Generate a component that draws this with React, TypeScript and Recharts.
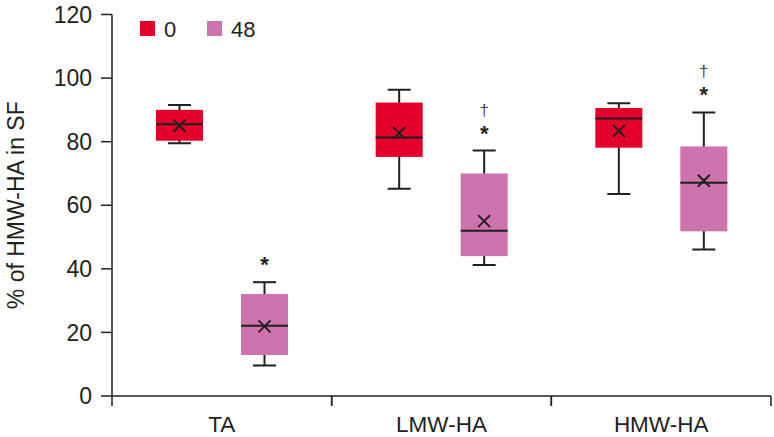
import React from "react";
import { BarChart, Bar, XAxis, YAxis, Legend, Label } from "recharts";

const categories = ["TA", "LMW-HA", "HMW-HA"];
const seriesNames = ["0", "48"];

// Series "0"
const min0 = [79.5, 65.2, 63.5];
const q1_0 = [80.3, 75.2, 78.1];
const med0 = [85.5, 81.3, 87.3];
const mean0 = [85.0, 82.7, 83.4];
const q3_0 = [90.0, 92.3, 90.6];
const max0 = [91.5, 96.3, 92.1];

// Series "48"
const min48 = [9.6, 41.2, 46.1];
const q1_48 = [12.9, 44.0, 51.8];
const med48 = [22.1, 52.0, 67.1];
const mean48 = [21.9, 55.0, 67.7];
const q3_48 = [32.1, 70.0, 78.5];
const max48 = [35.8, 77.2, 89.2];

// Annotations above series "48"
const star48 = ["*", "*", "*"];
const dagger48 = ["", "†", "†"];

const yTicks = [0, 20, 40, 60, 80, 100, 120];

const RED = "#E3002B";
const PINK = "#CD73AD";
const INK = "#231F20";
const FONT = "'Liberation Sans', Arial, Helvetica, sans-serif";

const data = categories.map((c, i) => ({
  category: c,
  s0: { min: min0[i], q1: q1_0[i], med: med0[i], mean: mean0[i], q3: q3_0[i], max: max0[i], star: "", dagger: "" },
  s48: { min: min48[i], q1: q1_48[i], med: med48[i], mean: mean48[i], q3: q3_48[i], max: max48[i], star: star48[i], dagger: dagger48[i] },
}));

function makeBoxShape(key: "s0" | "s48", color: string) {
  return (props: any) => {
    const { x, y, width, height, payload } = props;
    const s = payload[key];
    const top = Math.min(y, y + height);
    const bottom = Math.max(y, y + height);
    const k = (bottom - top) / (s.max - s.min);
    const py = (v: number) => bottom - (v - s.min) * k;
    const cx = x + width / 2;
    const capHalf = width * 0.245;
    const m = 6;
    const ym = py(s.mean);
    return (
      <g>
        <line x1={cx} x2={cx} y1={py(s.max)} y2={py(s.min)} stroke={INK} strokeWidth={2} />
        <line x1={cx - capHalf} x2={cx + capHalf} y1={py(s.max)} y2={py(s.max)} stroke={INK} strokeWidth={2} />
        <line x1={cx - capHalf} x2={cx + capHalf} y1={py(s.min)} y2={py(s.min)} stroke={INK} strokeWidth={2} />
        <rect x={x} y={py(s.q3)} width={width} height={py(s.q1) - py(s.q3)} fill={color} />
        <line x1={x} x2={x + width} y1={py(s.med)} y2={py(s.med)} stroke={INK} strokeWidth={2} />
        <line x1={cx - m} x2={cx + m} y1={ym - m} y2={ym + m} stroke={INK} strokeWidth={2} />
        <line x1={cx - m} x2={cx + m} y1={ym + m} y2={ym - m} stroke={INK} strokeWidth={2} />
        {s.star ? (
          <text x={cx} y={py(s.max) - 10} textAnchor="middle" fontSize={22} fontWeight="bold" fill={INK} fontFamily={FONT}>
            {s.star}
          </text>
        ) : null}
        {s.dagger ? (
          <text x={cx} y={py(s.max) - 35} textAnchor="middle" fontSize={17} fill="#4a4a4a" fontFamily={FONT}>
            {s.dagger}
          </text>
        ) : null}
      </g>
    );
  };
}

const XTick = (props: any) => {
  const { x, y, payload, width } = props;
  const half = payload && payload.offset > 0 ? payload.offset : width / categories.length / 2;
  return (
    <g>
      <line x1={x - half} x2={x - half} y1={y} y2={y + 10} stroke={INK} strokeWidth={1.5} />
      <line x1={x + half} x2={x + half} y1={y} y2={y + 10} stroke={INK} strokeWidth={1.5} />
      <text x={x} y={y + 36} textAnchor="middle" fontSize={22.5} fill={INK} fontFamily={FONT}>
        {payload.value}
      </text>
    </g>
  );
};

const LegendContent = (props: any) => {
  const items = props.payload || [];
  return (
    <svg width={130} height={32}>
      {items.map((it: any, i: number) => (
        <g key={i} transform={`translate(${i * 67},0)`}>
          <rect x={0} y={8} width={15} height={15} fill={it.color} />
          <text x={24} y={23.5} fontSize={22} fill={INK} fontFamily={FONT}>
            {it.value}
          </text>
        </g>
      ))}
    </svg>
  );
};

const YLabel = (props: any) => {
  const vb = props.viewBox || { x: 0, y: 0, width: 0, height: 0 };
  const cx = vb.x + 24;
  const cy = vb.y + vb.height / 2;
  return (
    <text
      x={cx}
      y={cy}
      transform={`rotate(-90, ${cx}, ${cy})`}
      textAnchor="middle"
      fontSize={23}
      fill={INK}
      fontFamily={FONT}
    >
      % of HMW-HA in SF
    </text>
  );
};

export default function App() {
  return (
    <div style={{ position: "absolute", left: 0, top: 0, width: 774, height: 437, background: "#fff" }}>
      <BarChart
        width={774}
        height={437}
        data={data}
        margin={{ top: 14.5, right: 3, bottom: 0, left: 0 }}
        barSize={47}
        barGap={38}
      >
        <XAxis
          dataKey="category"
          tickLine={false}
          tickSize={0}
          tickMargin={0}
          height={41}
          axisLine={{ stroke: INK, strokeWidth: 1.5 }}
          tick={<XTick />}
          interval={0}
        />
        <YAxis
          domain={[0, 120]}
          ticks={yTicks}
          width={112}
          tickSize={11}
          tickMargin={9}
          tickLine={{ stroke: INK, strokeWidth: 1.5 }}
          axisLine={{ stroke: INK, strokeWidth: 1.5 }}
          tick={{ fontSize: 23, fill: INK, fontFamily: FONT }}
          allowDataOverflow
        >
          <Label content={<YLabel />} />
        </YAxis>
        <Legend
          layout="horizontal"
          verticalAlign="middle"
          align="center"
          content={<LegendContent />}
          wrapperStyle={{ position: "absolute", left: 140, top: 13, width: 130, height: 32 }}
        />
        <Bar
          name={seriesNames[0]}
          dataKey={(d: any) => [d.s0.min, d.s0.max]}
          fill={RED}
          isAnimationActive={false}
          shape={makeBoxShape("s0", RED)}
        />
        <Bar
          name={seriesNames[1]}
          dataKey={(d: any) => [d.s48.min, d.s48.max]}
          fill={PINK}
          isAnimationActive={false}
          shape={makeBoxShape("s48", PINK)}
        />
      </BarChart>
    </div>
  );
}
